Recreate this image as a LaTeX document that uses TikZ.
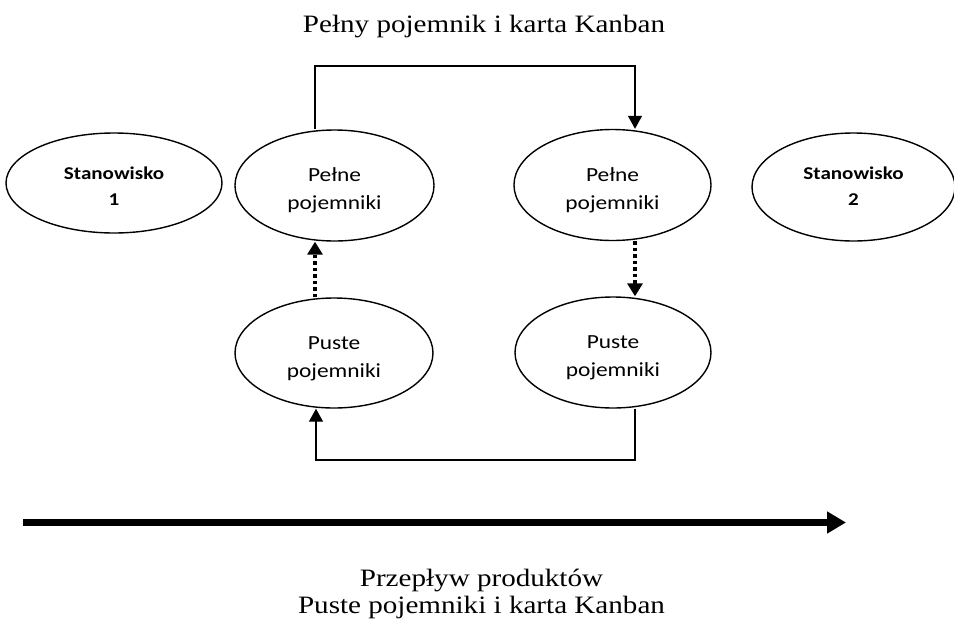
\documentclass[tikz,border=0pt]{standalone}
\usepackage{fontspec}
\setmainfont{Liberation Serif}
\newfontfamily\calfont{Carlito}
\usetikzlibrary{shapes.geometric,arrows.meta}

\tikzset{
  ell/.style={ellipse, draw, line width=1.4pt, inner sep=0pt, align=center,
    transform shape, xscale=1.17},
  ptxt/.style={ell, font=\calfont\fontsize{20}{28}\selectfont,
    text height=53.5pt, text depth=5pt},
  stxt/.style={ell, font=\calfont\bfseries\fontsize{18}{26}\selectfont,
    text depth=4pt},
  caption/.style={font=\fontsize{25}{27}\selectfont, inner sep=0pt,
    transform shape, xscale=1.164, align=center, anchor=base},
  conn/.style={line width=1.4pt, -{Triangle[length=13pt,width=14pt]}},
  dotconn/.style={line width=3.5pt, dash pattern=on 3.5pt off 3pt,
    -{Triangle[length=13pt,width=15pt]}},
  flow/.style={line width=7.5pt, -{Triangle[length=19pt,width=21pt]}}
}

\begin{document}
\begin{tikzpicture}[x=1pt,y=-1pt]
\useasboundingbox (0,0) rectangle (954,619);

% workstations and container buffers
\node[stxt, minimum width=184.6pt, minimum height=100pt, text height=48pt]
  (s1) at (114,183) {Stanowisko\\1};
\node[ptxt, minimum width=170.1pt, minimum height=111pt]
  (p1) at (334.5,185.5) {Pełne\\pojemniki};
\node[ptxt, minimum width=168.4pt, minimum height=111pt]
  (p2) at (612.5,185) {Pełne\\pojemniki};
\node[stxt, minimum width=173.5pt, minimum height=108pt, text height=40pt]
  (s2) at (853.5,187) {Stanowisko\\2};
\node[ptxt, minimum width=169.2pt, minimum height=110pt]
  (u1) at (334,353) {Puste\\pojemniki};
\node[ptxt, minimum width=167.5pt, minimum height=111pt]
  (u2) at (613,352.5) {Puste\\pojemniki};

% corner points of the card loops
\coordinate (tl) at (315,66);
\coordinate (tr) at (635,66);
\coordinate (bl) at (316,460);
\coordinate (br) at (635,460);

% full containers with the Kanban card
\draw[conn] (p1.north -| tl) -- (tl) -- (tr) -- (p2.north -| tr);
% empty containers with the Kanban card
\draw[conn] (u2.south -| br) -- (br) -- (bl) -- (u1.south -| bl);
% filling and emptying
\draw[dotconn] (u1.north -| tl) -- (p1.south -| tl);
\draw[dotconn] (p2.south -| tr) -- (u2.north -| tr);

% product flow
\coordinate (fs) at (23,522.5);
\coordinate (fe) at (846,522.5);
\draw[flow] (fs) -- (fe);

% captions
\node[caption] (title) at (484,32) {Pełny pojemnik i karta Kanban};
\node[caption] (flowlbl) at (481.5,613) {Przepływ produktów\\Puste pojemniki i karta Kanban};
\end{tikzpicture}
\end{document}
